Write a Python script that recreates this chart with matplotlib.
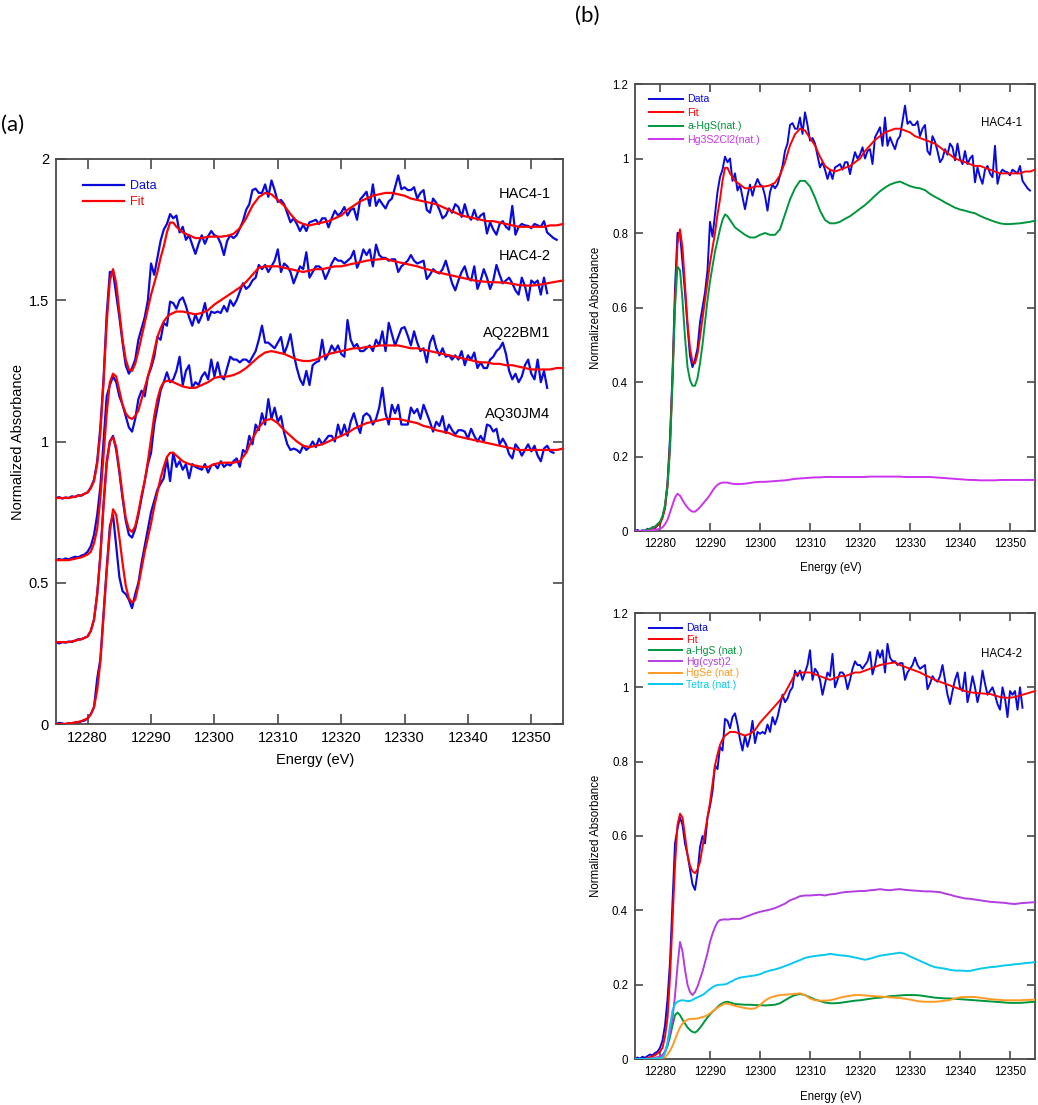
import numpy as np
import matplotlib
matplotlib.use("Agg")
import matplotlib.pyplot as plt
from matplotlib.ticker import FuncFormatter
from matplotlib.lines import Line2D

plt.rcParams['font.family'] = ['Liberation Sans', 'DejaVu Sans']

# ---------------- energy grids ----------------
# smooth curves: 1 eV pre-edge, 0.5 eV across the edge, 1 eV after
E_SMOOTH = np.concatenate([np.arange(12275, 12280, 1.0),
                           np.arange(12280, 12295, 0.5),
                           np.arange(12295, 12356, 1.0)])
E_DATA_START = 12275.0
E_DATA_STEP = 0.5
XTICKS = [12280, 12290, 12300, 12310, 12320, 12330, 12340, 12350]

SAMPLES = ['HAC4-1', 'HAC4-2', 'AQ22BM1', 'AQ30JM4']

# ---------------- measured spectra (0.5 eV steps from 12275 eV) ----------------
data_hac41 = [
    0.000, 0.003, -0.002, 0.002, 0.000, 0.006, 0.003, 0.010, 0.008, 0.015,
    0.020, 0.038, 0.065, 0.13, 0.25, 0.42, 0.65, 0.80, 0.80, 0.72,
    0.64, 0.55, 0.47, 0.44, 0.46, 0.49, 0.56, 0.60, 0.64, 0.70,
    0.83, 0.79, 0.85, 0.91, 0.95, 0.97, 1.005, 0.99, 1.0, 0.94,
    0.96, 0.914, 0.93, 0.896, 0.864, 0.90, 0.93, 0.90, 0.927, 0.945,
    0.93, 0.925, 0.90, 0.86, 0.91, 0.93, 0.92, 0.93, 0.954, 0.98,
    1.02, 1.04, 1.09, 1.095, 1.08, 1.08, 1.11, 1.066, 1.124, 1.09,
    1.048, 1.055, 1.04, 1.008, 0.976, 0.99, 0.97, 0.945, 0.967, 0.945,
    0.976, 0.98, 0.985, 0.97, 0.99, 0.99, 0.958, 0.99, 1.017, 1.0,
    1.01, 1.03, 1.00, 1.02, 1.025, 0.985, 1.057, 1.07, 1.084, 1.034,
    1.11, 1.034, 1.057, 1.04, 1.025, 1.05, 1.06, 1.10, 1.142, 1.093,
    1.10, 1.09, 1.09, 1.10, 1.06, 1.08, 1.09, 1.02, 1.01, 1.06,
    1.045, 1.02, 0.99, 1.00, 1.025, 1.01, 1.04, 1.03, 0.995, 1.04,
    1.00, 0.985, 1.02, 0.985, 1.0, 1.008, 0.936, 0.976, 0.95, 0.932,
    0.97, 0.98, 0.96, 0.95, 1.034, 0.932, 0.96, 0.97, 0.965, 0.963,
    0.955, 0.97, 0.965, 0.96, 0.98, 0.94, 0.93, 0.92, 0.914]

data_hac42 = [
    0.000, 0.004, 0.001, 0.006, 0.003, 0.008, 0.012, 0.010, 0.016, 0.020,
    0.030, 0.05, 0.09, 0.16, 0.26, 0.42, 0.58, 0.62, 0.65, 0.63,
    0.58, 0.55, 0.51, 0.47, 0.455, 0.50, 0.57, 0.60, 0.58, 0.65,
    0.68, 0.72, 0.79, 0.78, 0.84, 0.83, 0.915, 0.91, 0.89, 0.92,
    0.93, 0.90, 0.86, 0.83, 0.87, 0.84, 0.865, 0.91, 0.85, 0.88,
    0.875, 0.88, 0.875, 0.90, 0.88, 0.92, 0.90, 0.92, 0.95, 0.98,
    0.96, 0.97, 0.99, 1.00, 1.045, 1.03, 1.045, 1.02, 1.04, 1.06,
    1.10, 1.02, 1.05, 1.04, 1.02, 0.98, 1.01, 1.04, 1.03, 1.09,
    1.00, 1.02, 1.04, 1.04, 1.03, 0.995, 1.02, 1.05, 1.07, 1.06,
    1.06, 1.05, 1.06, 1.07, 1.095, 1.035, 1.06, 1.10, 1.08, 1.10,
    1.04, 1.117, 1.08, 1.07, 1.07, 1.06, 1.065, 1.065, 1.02, 1.04,
    1.05, 1.06, 1.08, 1.06, 1.05, 1.055, 1.06, 0.995, 1.01, 1.03,
    1.02, 1.015, 1.03, 1.06, 1.02, 0.98, 0.955, 0.99, 1.02, 1.04,
    1.00, 0.99, 1.04, 0.96, 0.99, 1.03, 1.00, 0.96, 0.99, 1.045,
    1.01, 0.98, 0.99, 1.00, 0.98, 0.955, 0.94, 1.00, 0.97, 0.92,
    0.99, 0.98, 0.99, 0.94, 1.00, 0.945]

data_aq22bm1 = [
    0.0, -0.005, 0.0, -0.002, 0.002, 0.0, 0.005, 0.01, 0.01, 0.015,
    0.02, 0.04, 0.08, 0.17, 0.31, 0.49, 0.64, 0.71, 0.73, 0.68,
    0.60, 0.51, 0.43, 0.38, 0.37, 0.40, 0.45, 0.51, 0.57, 0.63,
    0.67, 0.77, 0.83, 0.89, 0.92, 0.955, 0.92, 0.93, 0.96, 1.01,
    0.91, 0.96, 0.98, 0.90, 0.92, 0.91, 0.94, 0.955, 0.93, 1.00,
    0.94, 0.99, 0.94, 0.93, 0.97, 1.01, 1.00, 1.00, 0.99, 1.00,
    1.00, 0.99, 1.01, 1.03, 1.07, 1.12, 1.06, 1.06, 1.05, 1.04,
    1.06, 1.08, 1.02, 1.05, 1.09, 1.02, 0.97, 0.93, 0.91, 0.96,
    0.91, 0.98, 0.99, 0.995, 1.07, 1.00, 1.02, 1.05, 1.03, 1.05,
    1.02, 1.01, 1.14, 1.07, 1.045, 1.055, 1.03, 1.03, 1.04, 1.05,
    1.03, 1.07, 1.05, 1.10, 1.03, 1.13, 1.09, 1.05, 1.08, 1.11,
    1.115, 1.085, 1.05, 1.10, 1.06, 1.03, 1.04, 0.99, 1.06, 1.085,
    1.04, 1.015, 1.04, 1.01, 1.015, 1.00, 1.015, 1.00, 1.03, 0.98,
    1.015, 1.00, 1.025, 0.97, 0.99, 0.97, 0.97, 1.00, 1.01, 1.03,
    1.04, 1.06, 1.02, 0.96, 0.93, 0.95, 0.92, 0.94, 0.98, 1.00,
    0.95, 0.93, 1.00, 0.92, 0.96, 0.90]

data_aq30jm4 = [
    0.0, 0.004, 0.002, -0.002, 0.003, 0.001, 0.006, 0.004, 0.010, 0.012,
    0.02, 0.035, 0.06, 0.16, 0.23, 0.39, 0.55, 0.70, 0.74, 0.63,
    0.52, 0.47, 0.46, 0.44, 0.41, 0.46, 0.50, 0.57, 0.63, 0.69,
    0.75, 0.79, 0.83, 0.85, 0.87, 0.94, 0.86, 0.96, 0.91, 0.93,
    0.90, 0.92, 0.87, 0.92, 0.91, 0.905, 0.90, 0.92, 0.89, 0.915,
    0.92, 0.905, 0.93, 0.91, 0.92, 0.915, 0.93, 0.94, 0.91, 0.97,
    0.96, 1.02, 0.99, 1.06, 1.04, 1.10, 1.06, 1.15, 1.08, 1.12,
    1.07, 1.09, 1.03, 0.99, 0.97, 0.975, 0.97, 0.96, 0.985, 0.97,
    0.98, 1.0, 0.98, 1.01, 0.99, 1.005, 1.02, 1.02, 1.0, 1.06,
    1.02, 1.06, 1.02, 1.07, 1.10, 1.06, 1.03, 1.09, 1.10, 1.09,
    1.06, 1.08, 1.12, 1.19, 1.10, 1.06, 1.13, 1.10, 1.13, 1.06,
    1.06, 1.06, 1.12, 1.10, 1.115, 1.08, 1.13, 1.10, 1.07, 1.035,
    1.07, 1.055, 1.09, 1.03, 1.06, 1.04, 1.025, 1.04, 1.04, 1.035,
    1.01, 1.045, 1.02, 1.0, 1.02, 1.0, 1.06, 1.055, 1.035, 1.045,
    0.99, 1.01, 0.99, 0.955, 0.94, 0.99, 0.975, 0.95, 0.97, 0.99,
    0.965, 0.985, 0.95, 0.93, 0.975, 0.985, 0.965, 0.96]

# ---------------- fits (on E_SMOOTH) ----------------
fit_hac41 = [
    0.0, 0.0, 0.0, 0.005, 0.01,
    0.02, 0.035, 0.06, 0.12, 0.23, 0.41, 0.62, 0.77, 0.81, 0.76,
    0.66, 0.56, 0.49, 0.455, 0.45, 0.475, 0.52, 0.57, 0.62, 0.67,
    0.72, 0.76, 0.80, 0.85, 0.89, 0.94, 0.975, 0.975, 0.96, 0.95,
    0.94, 0.93, 0.92, 0.92, 0.925,
    0.925, 0.925, 0.928, 0.935, 0.955, 0.99, 1.035, 1.065, 1.08, 1.075,
    1.055, 1.035, 1.005, 0.98, 0.97, 0.965, 0.97, 0.975, 0.98, 0.99,
    1.00, 1.02, 1.035, 1.05, 1.06, 1.07, 1.075, 1.08, 1.08, 1.075,
    1.07, 1.06, 1.055, 1.05, 1.045, 1.04, 1.03, 1.02, 1.01, 1.00,
    0.995, 0.99, 0.985, 0.98, 0.98, 0.975, 0.97, 0.965, 0.96, 0.96,
    0.96, 0.96, 0.96, 0.965, 0.965, 0.97]

fit_hac42 = [
    0.0, 0.0, 0.0, 0.005, 0.01,
    0.02, 0.03, 0.06, 0.11, 0.22, 0.37, 0.52, 0.63, 0.66, 0.65,
    0.60, 0.55, 0.52, 0.505, 0.50, 0.51, 0.53, 0.57, 0.61, 0.65,
    0.69, 0.74, 0.79, 0.82, 0.845, 0.86, 0.87, 0.875, 0.88, 0.88,
    0.88, 0.875, 0.87, 0.875, 0.885,
    0.905, 0.92, 0.935, 0.95, 0.965, 0.985, 1.01, 1.035, 1.04, 1.04,
    1.04, 1.035, 1.03, 1.025, 1.02, 1.025, 1.03, 1.03, 1.035, 1.04,
    1.04, 1.045, 1.05, 1.055, 1.06, 1.063, 1.065, 1.067, 1.06, 1.055,
    1.05, 1.045, 1.04, 1.033, 1.027, 1.02, 1.015, 1.01, 1.005, 1.00,
    0.995, 0.99, 0.987, 0.985, 0.984, 0.983, 0.982, 0.978, 0.974, 0.972,
    0.972, 0.974, 0.978, 0.982, 0.986, 0.99]

fit_aq22bm1 = [
    0.0, 0.0, 0.0, 0.005, 0.01,
    0.02, 0.04, 0.08, 0.17, 0.30, 0.48, 0.63, 0.71, 0.725, 0.69,
    0.61, 0.52, 0.44, 0.40, 0.39, 0.41, 0.46, 0.52, 0.57, 0.64,
    0.72, 0.80, 0.86, 0.90, 0.92, 0.925, 0.925, 0.92, 0.915, 0.91,
    0.905, 0.90, 0.90, 0.91, 0.92,
    0.935, 0.94, 0.94, 0.945, 0.955, 0.97, 0.99, 1.01, 1.025, 1.03,
    1.025, 1.02, 1.01, 1.00, 0.995, 0.995, 1.00, 1.01, 1.02, 1.025,
    1.03, 1.035, 1.04, 1.04, 1.045, 1.045, 1.05, 1.05, 1.05, 1.05,
    1.045, 1.04, 1.04, 1.035, 1.03, 1.025, 1.02, 1.015, 1.01, 1.005,
    1.00, 0.995, 0.99, 0.99, 0.985, 0.985, 0.98, 0.98, 0.975, 0.97,
    0.965, 0.965, 0.965, 0.965, 0.97, 0.97]

fit_aq30jm4 = [
    0.0, 0.0, 0.002, 0.005, 0.01,
    0.02, 0.035, 0.06, 0.12, 0.22, 0.38, 0.54, 0.68, 0.76, 0.74,
    0.66, 0.57, 0.49, 0.445, 0.43, 0.44, 0.49, 0.55, 0.61, 0.66,
    0.71, 0.77, 0.82, 0.87, 0.91, 0.945, 0.96, 0.96, 0.95, 0.94,
    0.93, 0.92, 0.915, 0.91, 0.91,
    0.92, 0.925, 0.925, 0.925, 0.93, 0.96, 1.01, 1.05, 1.075, 1.08,
    1.065, 1.04, 1.02, 1.0, 0.985, 0.98, 0.985, 0.99, 1.00, 1.01,
    1.02, 1.03, 1.045, 1.055, 1.065, 1.07, 1.075, 1.08, 1.08, 1.08,
    1.075, 1.07, 1.065, 1.055, 1.05, 1.04, 1.035, 1.03, 1.02, 1.015,
    1.01, 1.005, 1.0, 0.995, 0.99, 0.985, 0.98, 0.975, 0.97, 0.97,
    0.97, 0.97, 0.97, 0.97, 0.97, 0.975]

# ---------------- weighted fit components (on E_SMOOTH) ----------------
hac41_aHgS = [
    0.0, 0.0, 0.002, 0.006, 0.012,
    0.025, 0.04, 0.07, 0.12, 0.22, 0.40, 0.60, 0.71, 0.70, 0.62,
    0.52, 0.44, 0.405, 0.39, 0.39, 0.41, 0.45, 0.50, 0.56, 0.62,
    0.67, 0.71, 0.75, 0.78, 0.81, 0.835, 0.85, 0.845, 0.835, 0.825,
    0.815, 0.805, 0.795, 0.788, 0.788,
    0.795, 0.80, 0.795, 0.795, 0.81, 0.85, 0.89, 0.92, 0.94, 0.94,
    0.925, 0.895, 0.86, 0.835, 0.826, 0.826, 0.83, 0.838, 0.845, 0.855,
    0.865, 0.875, 0.887, 0.90, 0.912, 0.922, 0.93, 0.935, 0.938, 0.932,
    0.926, 0.922, 0.92, 0.915, 0.905, 0.897, 0.89, 0.882, 0.875, 0.868,
    0.863, 0.86, 0.856, 0.853, 0.846, 0.84, 0.835, 0.83, 0.826, 0.824,
    0.824, 0.825, 0.826, 0.828, 0.83, 0.833]

hac41_Hg3S2Cl2 = [
    0.0, 0.0, 0.0, 0.001, 0.003,
    0.006, 0.01, 0.018, 0.03, 0.05, 0.07, 0.09, 0.10, 0.095, 0.083,
    0.072, 0.063, 0.056, 0.052, 0.052, 0.057, 0.064, 0.072, 0.08, 0.088,
    0.097, 0.108, 0.117, 0.124, 0.128, 0.13, 0.13, 0.13, 0.128, 0.127,
    0.126, 0.126, 0.127, 0.129, 0.131,
    0.132, 0.132, 0.133, 0.134, 0.135, 0.136, 0.138, 0.140, 0.141, 0.142,
    0.143, 0.144, 0.144, 0.145, 0.145, 0.145, 0.145, 0.145, 0.145, 0.145,
    0.145, 0.145, 0.146, 0.146, 0.146, 0.146, 0.146, 0.146, 0.146, 0.145,
    0.145, 0.145, 0.145, 0.145, 0.145, 0.144, 0.143, 0.142, 0.141, 0.140,
    0.139, 0.138, 0.137, 0.137, 0.136, 0.136, 0.136, 0.136, 0.137, 0.137,
    0.137, 0.137, 0.137, 0.137, 0.137, 0.137]

hac42_aHgS = [
    0.0, 0.0, 0.0, 0.001, 0.002,
    0.005, 0.01, 0.018, 0.035, 0.06, 0.09, 0.118, 0.125, 0.118, 0.106,
    0.095, 0.085, 0.078, 0.073, 0.071, 0.076, 0.084, 0.093, 0.103, 0.112,
    0.12, 0.127, 0.133, 0.14, 0.146, 0.15, 0.153, 0.154, 0.152, 0.15,
    0.148, 0.147, 0.146, 0.146, 0.145,
    0.145, 0.144, 0.145, 0.146, 0.15, 0.158, 0.166, 0.172, 0.175, 0.172,
    0.166, 0.16, 0.156, 0.152, 0.15, 0.15, 0.151, 0.153, 0.155, 0.157,
    0.158, 0.16, 0.162, 0.164, 0.165, 0.167, 0.169, 0.17, 0.171, 0.172,
    0.172, 0.172, 0.171, 0.169, 0.167, 0.165, 0.164, 0.163, 0.163, 0.162,
    0.161, 0.16, 0.159, 0.158, 0.157, 0.156, 0.155, 0.154, 0.153, 0.152,
    0.151, 0.151, 0.151, 0.152, 0.153, 0.154]

hac42_Hgcyst2 = [
    0.0, 0.0, 0.0, 0.001, 0.003,
    0.007, 0.011, 0.02, 0.04, 0.07, 0.11, 0.17, 0.25, 0.315, 0.29,
    0.24, 0.20, 0.18, 0.172, 0.18, 0.195, 0.215, 0.235, 0.26, 0.285,
    0.315, 0.337, 0.355, 0.368, 0.374, 0.375, 0.376, 0.375, 0.376, 0.377,
    0.377, 0.377, 0.382, 0.387, 0.392,
    0.396, 0.399, 0.402, 0.406, 0.412, 0.418, 0.427, 0.432, 0.438, 0.44,
    0.44, 0.441, 0.442, 0.44, 0.443, 0.444, 0.447, 0.449, 0.45, 0.451,
    0.452, 0.452, 0.454, 0.455, 0.457, 0.455, 0.454, 0.456, 0.457, 0.455,
    0.454, 0.453, 0.452, 0.451, 0.451, 0.45, 0.449, 0.445, 0.442, 0.438,
    0.435, 0.432, 0.431, 0.429, 0.427, 0.425, 0.423, 0.422, 0.421, 0.42,
    0.418, 0.417, 0.419, 0.42, 0.421, 0.422]

hac42_HgSe = [
    0.0, 0.0, 0.0, 0.0, 0.001,
    0.002, 0.003, 0.005, 0.012, 0.022, 0.035, 0.052, 0.07, 0.085, 0.095,
    0.102, 0.106, 0.108, 0.108, 0.108, 0.109, 0.111, 0.113, 0.115, 0.118,
    0.123, 0.128, 0.133, 0.138, 0.142, 0.146, 0.149, 0.149, 0.147, 0.145,
    0.143, 0.14, 0.137, 0.135, 0.136,
    0.145, 0.157, 0.165, 0.169, 0.172, 0.173, 0.174, 0.175, 0.177, 0.172,
    0.163, 0.158, 0.157, 0.157, 0.158, 0.161, 0.165, 0.168, 0.17, 0.172,
    0.172, 0.171, 0.17, 0.169, 0.168, 0.167, 0.166, 0.165, 0.164, 0.162,
    0.16, 0.157, 0.155, 0.154, 0.154, 0.154, 0.155, 0.157, 0.159, 0.163,
    0.166, 0.167, 0.167, 0.167, 0.165, 0.163, 0.161, 0.16, 0.159, 0.158,
    0.158, 0.158, 0.158, 0.159, 0.159, 0.16]

hac42_Tetra = [
    0.0, 0.0, 0.0, 0.0, 0.001,
    0.002, 0.004, 0.015, 0.045, 0.09, 0.13, 0.148, 0.154, 0.157, 0.158,
    0.157, 0.156, 0.156, 0.159, 0.163, 0.166, 0.169, 0.172, 0.177, 0.183,
    0.188, 0.193, 0.197, 0.199, 0.2, 0.2, 0.201, 0.203, 0.207, 0.21,
    0.214, 0.219, 0.221, 0.223, 0.225,
    0.228, 0.234, 0.238, 0.241, 0.245, 0.25, 0.255, 0.261, 0.266, 0.272,
    0.275, 0.277, 0.279, 0.28, 0.283, 0.281, 0.279, 0.278, 0.276, 0.273,
    0.27, 0.267, 0.27, 0.274, 0.278, 0.28, 0.282, 0.284, 0.286, 0.283,
    0.276, 0.27, 0.264, 0.258, 0.252, 0.247, 0.245, 0.243, 0.24, 0.238,
    0.238, 0.237, 0.237, 0.24, 0.243, 0.245, 0.247, 0.248, 0.25, 0.252,
    0.253, 0.255, 0.256, 0.258, 0.259, 0.261]

# ---------------- styling ----------------
C_DATA = '#0a0adc'
C_FIT = '#ff0000'
C_GREEN = '#00963c'
C_MAG1 = '#cc33ee'
C_MAG2 = '#b23ee0'
C_ORANGE = '#ff9a22'
C_CYAN = '#08c8ee'
SPINE = '#4a4a4a'

OFFSETS_A = [0.80, 0.58, 0.29, 0.0]
LABEL_Y_A = [1.876, 1.655, 1.384, 1.096]

W, H = 1038, 1105


def data_x(y):
    return E_DATA_START + E_DATA_STEP * np.arange(len(y))


def smooth_xy(y):
    n = min(len(E_SMOOTH), len(y))
    return E_SMOOTH[:n], np.asarray(y[:n])


def style_axes(ax, ylim, yticks, fs, tl):
    ax.set_xlim(12275, 12355)
    ax.set_ylim(*ylim)
    ax.set_xticks(XTICKS)
    ax.set_yticks(yticks)
    ax.yaxis.set_major_formatter(FuncFormatter(lambda v, p: f'{v:g}'))
    ax.tick_params(direction='in', top=True, right=True, length=tl, width=1.2,
                   color=SPINE, labelsize=fs, pad=5)
    for s in ax.spines.values():
        s.set_color(SPINE)
        s.set_linewidth(1.3)


fig = plt.figure(figsize=(W / 100, H / 100), dpi=100)

# ---------------- panel (a) ----------------
axA = fig.add_axes([56 / W, 1 - 724 / H, 507 / W, 565 / H])
data_all = [data_hac41, data_hac42, data_aq22bm1, data_aq30jm4]
fit_all = [fit_hac41, fit_hac42, fit_aq22bm1, fit_aq30jm4]
for d, f, off in zip(data_all, fit_all, OFFSETS_A):
    axA.plot(data_x(d), np.asarray(d) + off, color=C_DATA, lw=1.6, zorder=2)
    xs, ys = smooth_xy(f)
    axA.plot(xs, ys + off, color=C_FIT, lw=1.6, zorder=3)
for name, ly in zip(SAMPLES, LABEL_Y_A):
    axA.text(12353, ly, name, ha='right', va='center', fontsize=10.5)
style_axes(axA, (0, 2), [0, 0.5, 1, 1.5, 2], 10.5, 7)
axA.set_xlabel('Energy (eV)', fontsize=10.5)
axA.set_ylabel('Normalized Absorbance', fontsize=10.5)
axA.xaxis.set_label_coords(0.512, -0.052)
axA.yaxis.set_label_coords(-0.062, 0.5)
hA = [Line2D([], [], color=C_DATA, lw=1.6), Line2D([], [], color=C_FIT, lw=1.6)]
axA.legend(hA, ['Data', 'Fit'], loc='upper left', bbox_to_anchor=(0.053, 0.962),
           frameon=False, fontsize=9, handlelength=3.3, handletextpad=0.45,
           labelspacing=0.28, borderpad=0, borderaxespad=0, labelcolor='linecolor')

# ---------------- panel (b) top ----------------
axB1 = fig.add_axes([635 / W, 1 - 531 / H, 400 / W, 447 / H])
axB1.plot(data_x(data_hac41), data_hac41, color=C_DATA, lw=1.4, zorder=2)
axB1.plot(*smooth_xy(fit_hac41), color=C_FIT, lw=1.4, zorder=3)
axB1.plot(*smooth_xy(hac41_aHgS), color=C_GREEN, lw=1.4, zorder=4)
axB1.plot(*smooth_xy(hac41_Hg3S2Cl2), color=C_MAG1, lw=1.4, zorder=4)
axB1.text(12352.3, 1.094, 'HAC4-1', ha='right', va='center', fontsize=8.3)
style_axes(axB1, (0, 1.2), [0, 0.2, 0.4, 0.6, 0.8, 1.0, 1.2], 8.3, 6)
axB1.set_xlabel('Energy (eV)', fontsize=8.3)
axB1.set_ylabel('Normalized Absorbance', fontsize=8.3)
axB1.xaxis.set_label_coords(0.49, -0.07)
axB1.yaxis.set_label_coords(-0.082, 0.5)
hB1 = [Line2D([], [], color=c, lw=1.4) for c in (C_DATA, C_FIT, C_GREEN, C_MAG1)]
axB1.legend(hB1, ['Data', 'Fit', 'a-HgS(nat.)', 'Hg3S2Cl2(nat.)'], loc='upper left',
            bbox_to_anchor=(0.035, 0.977), frameon=False, fontsize=7.6,
            handlelength=3.2, handletextpad=0.4, labelspacing=0.33, borderpad=0,
            borderaxespad=0, labelcolor='linecolor')

# ---------------- panel (b) bottom ----------------
axB2 = fig.add_axes([635 / W, 1 - 1059 / H, 400 / W, 446 / H])
axB2.plot(data_x(data_hac42), data_hac42, color=C_DATA, lw=1.4, zorder=2)
axB2.plot(*smooth_xy(fit_hac42), color=C_FIT, lw=1.4, zorder=3)
axB2.plot(*smooth_xy(hac42_aHgS), color=C_GREEN, lw=1.4, zorder=4)
axB2.plot(*smooth_xy(hac42_Hgcyst2), color=C_MAG2, lw=1.4, zorder=4)
axB2.plot(*smooth_xy(hac42_HgSe), color=C_ORANGE, lw=1.4, zorder=4)
axB2.plot(*smooth_xy(hac42_Tetra), color=C_CYAN, lw=1.4, zorder=4)
axB2.text(12352.3, 1.089, 'HAC4-2', ha='right', va='center', fontsize=8.3)
style_axes(axB2, (0, 1.2), [0, 0.2, 0.4, 0.6, 0.8, 1.0, 1.2], 8.3, 6)
axB2.set_xlabel('Energy (eV)', fontsize=8.3)
axB2.set_ylabel('Normalized Absorbance', fontsize=8.3)
axB2.xaxis.set_label_coords(0.49, -0.072)
axB2.yaxis.set_label_coords(-0.082, 0.5)
hB2 = [Line2D([], [], color=c, lw=1.4) for c in
       (C_DATA, C_FIT, C_GREEN, C_MAG2, C_ORANGE, C_CYAN)]
axB2.legend(hB2, ['Data', 'Fit', 'a-HgS (nat.)', 'Hg(cyst)2', 'HgSe (nat.)', 'Tetra (nat.)'],
            loc='upper left', bbox_to_anchor=(0.035, 0.977), frameon=False,
            fontsize=7.5, handlelength=3.2, handletextpad=0.4, labelspacing=0.12,
            borderpad=0, borderaxespad=0, labelcolor='linecolor')

# ---------------- panel letters ----------------
fig.text(1 / W, 1 - 125 / H, '(a)', fontsize=16, va='center', ha='left',
         family=['Lato', 'DejaVu Sans'])
fig.text(575 / W, 1 - 16 / H, '(b)', fontsize=16, va='center', ha='left',
         family=['Lato', 'DejaVu Sans'])

fig.savefig('out.png', dpi=100)
